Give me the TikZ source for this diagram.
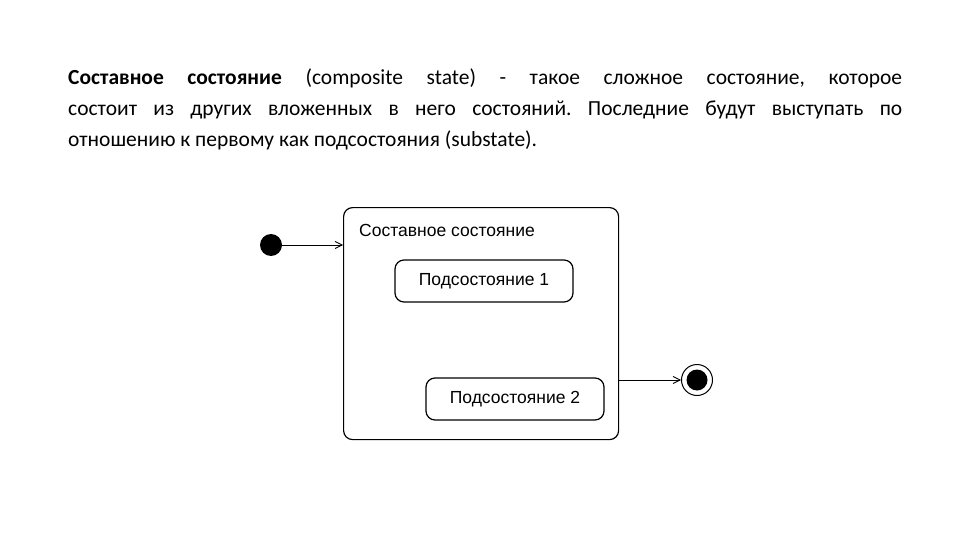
\documentclass[tikz,border=0pt]{standalone}
\usepackage{fontspec}
\setmainfont{Carlito}
\newfontfamily\diafont{Liberation Sans}
\usetikzlibrary{arrows.meta}
\begin{document}
\begin{tikzpicture}[x=1pt,y=-1pt,
  stbox/.style={draw,line width=1.2pt,rounded corners=9pt,font=\diafont\fontsize{17.5}{20}\selectfont},
  arr/.style={-{Straight Barb[length=7pt,width=7pt]},line width=0.8pt}]
\useasboundingbox (0,0) rectangle (960,540);
\node[anchor=north west,inner sep=0pt,text width=834pt,align=justify,font=\fontsize{21.5}{31}\selectfont\frenchspacing] (para) at (68,69)
{\textbf{Составное состояние} (composite state) - такое сложное состояние, которое\linebreak состоит из других вложенных в него состояний. Последние будут выступать по\linebreak отношению к первому как подсостояния (substate).};
\node[draw,line width=1.2pt,rounded corners=9pt,minimum width=275pt,minimum height=232pt,anchor=north west] (comp) at (343,207) {};
\node[anchor=west,inner sep=0pt,font=\diafont\fontsize{17.5}{20}\selectfont] (ctitle) at (359,230) {Составное состояние};
\node[stbox,minimum width=178pt,minimum height=42pt] (s1) at (484,281) {Подсостояние 1};
\node[stbox,minimum width=178pt,minimum height=42pt] (s2) at (515,399) {Подсостояние 2};
\node[circle,fill=black,minimum size=22pt,inner sep=0pt] (init) at (271,245) {};
\coordinate (cin) at (343,245);
\draw[arr] (init) -- (cin);
\node[circle,draw,line width=1pt,minimum size=31pt,inner sep=0pt] (fin) at (697,380) {};
\node[circle,fill=black,minimum size=21pt,inner sep=0pt] (fin2) at (697,380) {};
\coordinate (cout) at (618,380);
\draw[arr] (cout) -- (fin);
\end{tikzpicture}
\end{document}
